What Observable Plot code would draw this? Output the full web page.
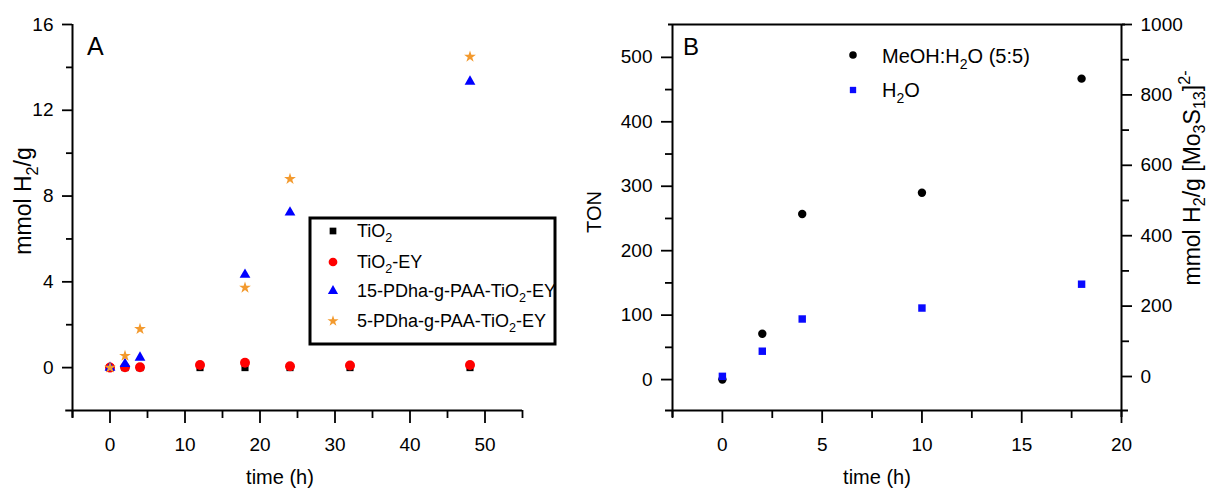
<!DOCTYPE html>
<html><head><meta charset="utf-8">
<script src="https://cdn.jsdelivr.net/npm/d3@7"></script>
<script src="https://cdn.jsdelivr.net/npm/@observablehq/plot@0.6"></script>
<style>
html,body{margin:0;padding:0;background:#fff;}
#wrap{position:relative;width:1214px;height:488px;overflow:hidden;background:#fff;}
#wrap svg{position:absolute;top:0;overflow:visible;max-width:none;}
</style></head><body><div id="wrap"></div>
<script>
// ---------- Panel A data ----------
const timesA = [0, 2, 4, 12, 18, 24, 32, 48];
const tio2 = [0, 0, 0, 0, 0, 0, 0, 0];
const tio2EY = [0, 0.02, 0.02, 0.12, 0.23, 0.06, 0.1, 0.12];
const timesPDha = [0, 2, 4, 18, 24, 48];
const pdha15 = [0, 0.17, 0.47, 4.33, 7.24, 13.34];
const pdha5 = [0, 0.55, 1.8, 3.73, 8.8, 14.5];
const xTicksA = [0, 10, 20, 30, 40, 50];
const xMinorA = [-5, 5, 15, 25, 35, 45, 55];
const yTicksA = [0, 4, 8, 12, 16];
const yMinorA = [2, 6, 10, 14];

// ---------- Panel B data ----------
const timesB = [0, 2, 4, 10, 18];
const tonMeOH = [0, 71, 257, 290, 467];
const tonH2O = [5, 44, 94, 111, 148];
const xTicksB = [0, 5, 10, 15, 20];
const xMinorB = [-2.5, 2.5, 7.5, 12.5, 17.5];
const yTicksB = [0, 100, 200, 300, 400, 500];
const yMinorB = [50, 150, 250, 350, 450];
const yTicksBRight = [0, 200, 400, 600, 800, 1000];
const yMinorBRight = [100, 300, 500, 700, 900];

const font = '"Liberation Sans", Arial, Helvetica, sans-serif';
const wrap = document.getElementById("wrap");

const rowsOf = (xs, ys) => xs.map((t, i) => ({t, v: ys[i]}));

// ---------- Panel A ----------
const xDomA = [-5, 55], yDomA = [-2, 16];
const axStyle = {stroke: "#000", strokeWidth: 1.8};
const plotA = Plot.plot({
  width: 560, height: 488,
  marginLeft: 72, marginRight: 38, marginTop: 24, marginBottom: 78,
  x: {domain: xDomA, label: null},
  y: {domain: yDomA, label: null},
  style: {fontFamily: font, fontSize: "19px", color: "#000", background: "transparent"},
  marks: [
    Plot.ruleY([yDomA[0]], {x1: xDomA[0] - 0.9, x2: xDomA[1], stroke: "#000", strokeWidth: 2}),
    Plot.ruleX([xDomA[0]], {y1: yDomA[0] - 0.35, y2: yDomA[1], stroke: "#000", strokeWidth: 2}),
    Plot.axisX({ticks: xTicksA, tickSize: 13, tickPadding: 14, label: null, ...axStyle}),
    Plot.axisX({ticks: xMinorA, tickSize: 8, tickFormat: () => "", label: null, ...axStyle}),
    Plot.axisY({ticks: yTicksA, tickSize: 10, tickPadding: 9, label: null, ...axStyle}),
    Plot.axisY({ticks: yMinorA, tickSize: 6, tickFormat: () => "", label: null, ...axStyle}),
    Plot.dot(rowsOf(timesA, tio2), {x: "t", y: "v", symbol: "square", r: 4, fill: "#000", stroke: "none"}),
    Plot.dot(rowsOf(timesA, tio2EY), {x: "t", y: "v", symbol: "circle", r: 5, fill: "#ff0000", stroke: "none"}),
    Plot.dot(rowsOf(timesPDha, pdha15), {x: "t", y: "v", symbol: "triangle", r: 4, fill: "#0000ff", stroke: "none"}),
    Plot.dot(rowsOf(timesPDha, pdha5), {x: "t", y: "v", symbol: "star", r: 3.7, fill: "#f39a2e", stroke: "none"})
  ]
});
plotA.style.left = "0px";
wrap.appendChild(plotA);

// ---------- Panel B ----------
const xDomB = [-2.5, 20], yDomB = [-48, 551], yDomBRight = [-96.6, 1000];
const toLeft = r => yDomB[0] + (r - yDomBRight[0]) * (yDomB[1] - yDomB[0]) / (yDomBRight[1] - yDomBRight[0]);
const fromLeft = l => yDomBRight[0] + (l - yDomB[0]) * (yDomBRight[1] - yDomBRight[0]) / (yDomB[1] - yDomB[0]);
const plotB = Plot.plot({
  width: 654, height: 488,
  marginLeft: 112, marginRight: 93, marginTop: 24, marginBottom: 78,
  x: {domain: xDomB, label: null},
  y: {domain: yDomB, label: null},
  style: {fontFamily: font, fontSize: "19px", color: "#000", background: "transparent"},
  marks: [
    Plot.ruleY([yDomB[0]], {x1: xDomB[0] - 0.35, x2: xDomB[1] + 0.35, stroke: "#000", strokeWidth: 2}),
    Plot.ruleY([yDomB[1]], {x1: xDomB[0] - 0.2, x2: xDomB[1] + 0.2, stroke: "#000", strokeWidth: 2}),
    Plot.ruleX([xDomB[0]], {y1: yDomB[0] - 11, y2: yDomB[1], stroke: "#000", strokeWidth: 2}),
    Plot.ruleX([xDomB[1]], {y1: yDomB[0] - 11, y2: yDomB[1], stroke: "#000", strokeWidth: 2}),
    Plot.axisX({ticks: xTicksB, tickSize: 13, tickPadding: 14, label: null, ...axStyle}),
    Plot.axisX({ticks: xMinorB, tickSize: 8, tickFormat: () => "", label: null, ...axStyle}),
    Plot.axisY({ticks: yTicksB, tickSize: 11, tickPadding: 9, label: null, ...axStyle}),
    Plot.axisY({ticks: yMinorB, tickSize: 7, tickFormat: () => "", label: null, ...axStyle}),
    Plot.axisY({anchor: "right", ticks: yTicksBRight.map(toLeft), tickFormat: d => String(Math.round(fromLeft(d))), tickSize: 10, tickPadding: 9, label: null, ...axStyle}),
    Plot.axisY({anchor: "right", ticks: yMinorBRight.map(toLeft), tickFormat: () => "", tickSize: 7, label: null, ...axStyle}),
    Plot.dot(rowsOf(timesB, tonMeOH), {x: "t", y: "v", symbol: "circle", r: 4.2, fill: "#000", stroke: "none"}),
    Plot.dot(rowsOf(timesB, tonH2O), {x: "t", y: "v", symbol: "square", r: 4.2, fill: "#0a0aff", stroke: "none"})
  ]
});
plotB.style.left = "560px";
wrap.appendChild(plotB);

// ---------- rich text helper (sub/superscripts) ----------
function rich(svg, x, y, parts, {size = 20, rotate = 0, anchor = "start", sub = 0.3} = {}) {
  const t = d3.select(svg).append("text")
    .attr("transform", `translate(${x},${y}) rotate(${rotate})`)
    .attr("text-anchor", anchor).attr("font-size", size)
    .attr("font-family", font).attr("fill", "#000");
  let shift = 0;
  for (const p of parts) {
    const ts = t.append("tspan").text(p.t);
    const target = p.sub ? size * sub : p.sup ? -size * 0.45 : 0;
    if (p.sub || p.sup) ts.attr("font-size", size * 0.7);
    ts.attr("dy", target - shift);
    shift = target;
  }
  return t;
}

// Panel A texts
rich(plotA, 87, 55, [{t: "A"}], {size: 25});
rich(plotA, 280, 484, [{t: "time (h)"}], {size: 20, anchor: "middle"});
rich(plotA, 31, 201, [{t: "mmol H"}, {t: "2", sub: true}, {t: "/g"}], {size: 23, rotate: -90, anchor: "middle"});

// Panel A legend
const gA = d3.select(plotA).append("g");
gA.append("rect").attr("x", 310).attr("y", 218).attr("width", 245).attr("height", 126)
  .attr("fill", "#fff").attr("stroke", "#000").attr("stroke-width", 3);
const legA = [
  {sym: d3.symbolSquare, size: 45, color: "#000", parts: [{t: "TiO"}, {t: "2", sub: true}]},
  {sym: d3.symbolCircle, size: 60, color: "#ff0000", parts: [{t: "TiO"}, {t: "2", sub: true}, {t: "-EY"}]},
  {sym: d3.symbolTriangle, size: 45, color: "#0000ff", parts: [{t: "15-PDha-g-PAA-TiO"}, {t: "2", sub: true}, {t: "-EY"}]},
  {sym: d3.symbolStar, size: 38, color: "#f39a2e", parts: [{t: "5-PDha-g-PAA-TiO"}, {t: "2", sub: true}, {t: "-EY"}]}
];
const rowYA = [231, 262, 291, 321];
legA.forEach((d, i) => {
  gA.append("path").attr("d", d3.symbol().type(d.sym).size(d.size)())
    .attr("transform", `translate(333,${rowYA[i]})`).attr("fill", d.color);
  rich(plotA, 357, rowYA[i] + 6, d.parts, {size: 18});
});

// Panel B texts
rich(plotB, 683 - 560, 55, [{t: "B"}], {size: 24});
rich(plotB, 877 - 560, 484, [{t: "time (h)"}], {size: 20, anchor: "middle"});
rich(plotB, 601 - 560, 212, [{t: "TON"}], {size: 20, rotate: -90, anchor: "middle"});
rich(plotB, 1200 - 560, 178, [{t: "mmol H"}, {t: "2", sub: true}, {t: "/g [Mo"}, {t: "3", sub: true}, {t: "S"}, {t: "13", sub: true}, {t: "]"}, {t: "2-", sup: true}], {size: 23, rotate: -90, anchor: "middle", sub: 0.22});

// Panel B legend
const gB = d3.select(plotB).append("g");
gB.append("path").attr("d", d3.symbol().type(d3.symbolCircle).size(45)())
  .attr("transform", `translate(${853 - 560},55)`).attr("fill", "#000");
gB.append("path").attr("d", d3.symbol().type(d3.symbolSquare).size(40)())
  .attr("transform", `translate(${853 - 560},90)`).attr("fill", "#0a0aff");
rich(plotB, 882 - 560, 63, [{t: "MeOH:H"}, {t: "2", sub: true}, {t: "O (5:5)"}], {size: 20});
rich(plotB, 882 - 560, 97, [{t: "H"}, {t: "2", sub: true}, {t: "O"}], {size: 20});
</script>
</body></html>
